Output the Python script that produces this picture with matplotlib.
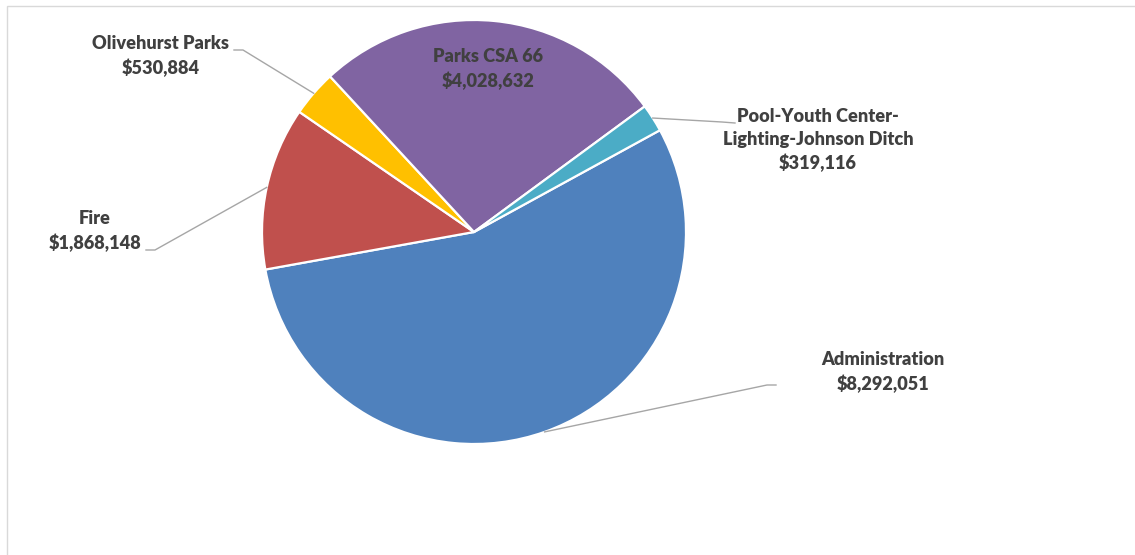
import numpy as np
import matplotlib
matplotlib.use("Agg")
import matplotlib.pyplot as plt
from matplotlib.patches import Rectangle

# data
categorias = ["Administration", "Fire", "Olivehurst Parks", "Parks CSA 66",
              "Pool-Youth Center-\nLighting-Johnson Ditch"]
valores = [8292051, 1868148, 530884, 4028632, 319116]
cores = ["#4F81BD", "#C0504D", "#FFC000", "#8064A2", "#4BACC6"]

W, H = 1135, 555
cx, cy, R = 474, 232, 212


def px(x, y):
    # pixel -> data
    return (x - cx) / R, (cy - y) / R


fig = plt.figure(figsize=(W / 100, H / 100), dpi=100)
ax = fig.add_axes([0, 0, 1, 1])

wedges, _ = ax.pie(
    valores,
    colors=cores,
    startangle=28.7,
    counterclock=False,
    radius=1,
    wedgeprops=dict(edgecolor="white", linewidth=1.6),
)

ax.set_xlim(-cx / R, (W - cx) / R)
ax.set_ylim((cy - H) / R, cy / R)
ax.set_aspect("auto")
ax.axis("off")

# moldura
x0, y0 = px(7, 6)
x1, y1 = px(W + 20, H + 20)
ax.add_patch(Rectangle((x0, y1), x1 - x0, y0 - y1, fill=False,
                       edgecolor="#d9d9d9", linewidth=1, clip_on=False))

fonte = dict(family=["Lato", "DejaVu Sans"], fontweight="heavy", fontsize=13.1,
             color="#404040", linespacing=1.38)
linha = dict(color="#a6a6a6", linewidth=1)

# posicao do texto, cotovelo, fim (pixels)
rotulos = {
    "Administration": ((883, 372), (767, 385), (776, 385)),
    "Fire": ((95, 231), (155, 250), (146, 250)),
    "Olivehurst Parks": ((161, 56), (243, 50), (234, 50)),
    "Pool-Youth Center-\nLighting-Johnson Ditch": ((818, 140), (722, 122), (735, 123)),
}

for w, nome, v in zip(wedges, categorias, valores):
    texto = f"{nome}\n${v:,.0f}"
    if nome == "Parks CSA 66":
        ax.text(*px(488, 69), texto, ha="center", va="center", **fonte)
        continue
    pos, cot, fim = rotulos[nome]
    ax.text(*px(*pos), texto, ha="center", va="center", **fonte)
    ang = np.deg2rad((w.theta1 + w.theta2) / 2)
    ancora = (np.cos(ang), np.sin(ang))
    c = px(*cot)
    f = px(*fim)
    ax.plot([ancora[0], c[0], f[0]], [ancora[1], c[1], f[1]], **linha)

fig.savefig("out.png", dpi=100, facecolor="white")
